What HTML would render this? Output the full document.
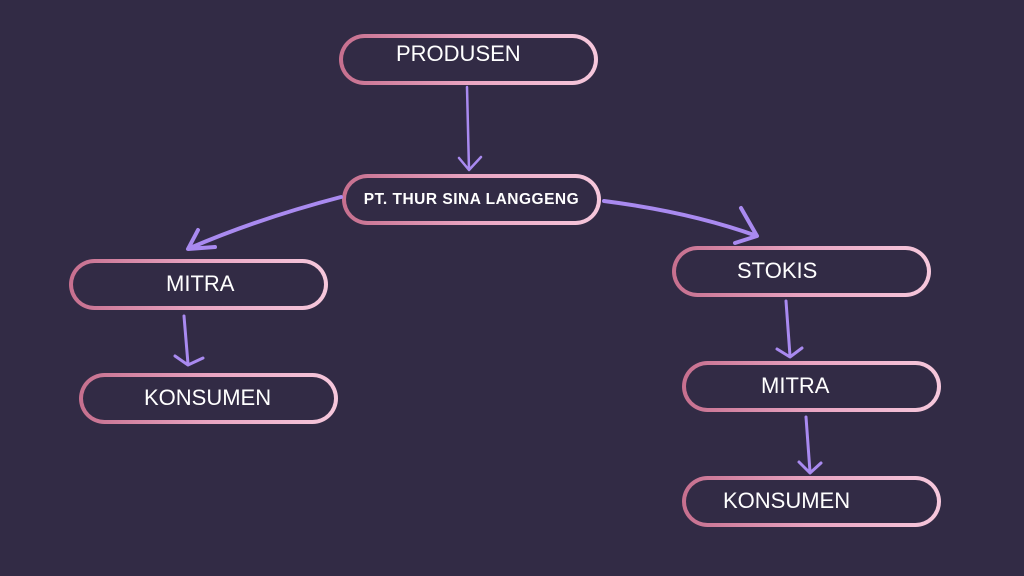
<!DOCTYPE html>
<html><head><style>
body{margin:0;width:1024px;height:576px;background:#322b45;overflow:hidden;position:relative;font-family:"Liberation Sans",sans-serif}
.b{position:absolute;box-sizing:border-box;height:51px;width:259px;border-radius:26px;padding:4px;background:linear-gradient(90deg,#c66f8e,#e9a5c2 50%,#f6c8dc);}
.b div{width:100%;height:100%;border-radius:22px;background:#322b45;color:#fff;font-size:22px;box-sizing:border-box;padding-top:3px}
svg{position:absolute;left:0;top:0}
</style></head><body>
<div class="b" style="left:339px;top:34px"><div style="padding-left:53px">PRODUSEN</div></div>
<div class="b" style="left:342px;top:174px"><div style="font-weight:bold;font-size:15.5px;letter-spacing:0.5px;padding-top:13px;text-align:center">PT. THUR SINA LANGGENG</div></div>
<div class="b" style="left:69px;top:259px"><div style="padding-left:93px;padding-top:8px">MITRA</div></div>
<div class="b" style="left:79px;top:373px"><div style="padding-left:61px;padding-top:8px">KONSUMEN</div></div>
<div class="b" style="left:672px;top:246px"><div style="padding-left:61px;padding-top:8px">STOKIS</div></div>
<div class="b" style="left:682px;top:361px"><div style="padding-left:75px;padding-top:8px">MITRA</div></div>
<div class="b" style="left:682px;top:476px"><div style="padding-left:37px;padding-top:8px">KONSUMEN</div></div>
<svg width="1024" height="576" fill="none" stroke="#a98af0" stroke-linecap="round" stroke-linejoin="round">
<path d="M467 87 L469 170 M459 158 L469 170 L481 157" stroke-width="2.5"/>
<path d="M341 197 Q260 218 190 248 M198 230 L188 249 L215 247" stroke-width="4"/>
<path d="M604 201 Q690 212 757 236 M741 208 L757 236 L735 243" stroke-width="4"/>
<path d="M786 301 L790 356 M777 349 L790 357 L802 348" stroke-width="3"/>
<path d="M184 316 L188 364 M175 356 L188 365 L203 358" stroke-width="3"/>
<path d="M806 417 L810 472 M799 462 L810 473 L821 463" stroke-width="3"/>
</svg>
</body></html>
